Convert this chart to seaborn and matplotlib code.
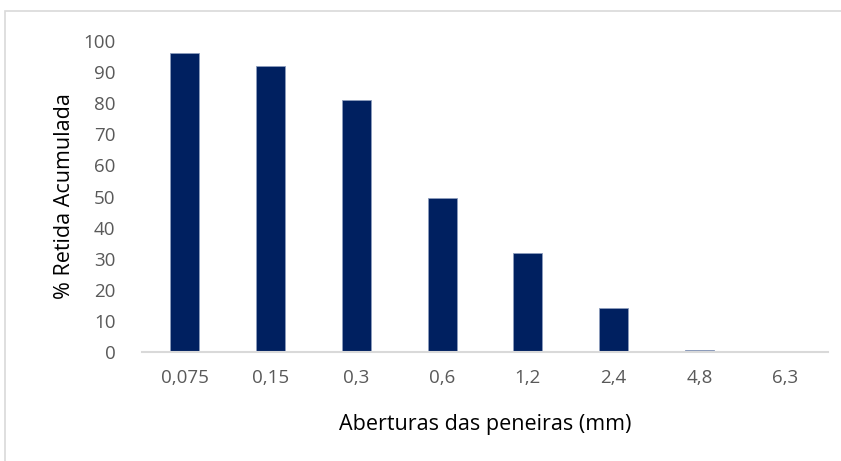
import matplotlib
matplotlib.use("Agg")
import matplotlib.pyplot as plt
import seaborn as sns
import pandas as pd
from matplotlib.patches import Rectangle

aberturas = ["0,075", "0,15", "0,3", "0,6", "1,2", "2,4", "4,8", "6,3"]
retida = [96.1, 92.0, 81.0, 49.5, 31.8, 14.0, 0.6, 0.3]
yticks = [0, 10, 20, 30, 40, 50, 60, 70, 80, 90, 100]

df = pd.DataFrame({"abertura": aberturas, "retida": retida})

sns.set_theme(style="white")
plt.rcParams["font.family"] = ["Open Sans", "DejaVu Sans"]

fig = plt.figure(figsize=(8.41, 4.61), dpi=100)
ax = fig.add_axes([142 / 841, 1 - 352 / 461, (828 - 142) / 841, (352 - 41) / 461])

sns.barplot(data=df, x="abertura", y="retida", color="#002060", width=0.34,
            saturation=1, ax=ax, edgecolor="#8d9dbd", linewidth=0.6)

ax.set_xlim(-0.5, 7.5)
ax.set_ylim(0, 100)
ax.set_yticks(yticks)
ax.set_yticklabels([str(t) for t in yticks])
for s in ["top", "right", "left"]:
    ax.spines[s].set_visible(False)
ax.spines["bottom"].set_color("#d9d9d9")
ax.spines["bottom"].set_linewidth(1.5)
ax.tick_params(axis="both", length=0, labelsize=13.5, colors="#595959")
ax.tick_params(axis="x", pad=12)
ax.tick_params(axis="y", pad=19)
ax.set_xlabel("Aberturas das peneiras (mm)", fontsize=15.5, color="black", labelpad=20)
ax.set_ylabel("% Retida Acumulada", fontsize=15.5, color="black", labelpad=6)

# chart area border
fig.patches.append(Rectangle((5 / 841, -0.1), 1.1, 1 - 11 / 461 + 0.1,
                             transform=fig.transFigure, fill=False,
                             edgecolor="#d9d9d9", linewidth=1.2))

fig.savefig("out.png", dpi=100)
